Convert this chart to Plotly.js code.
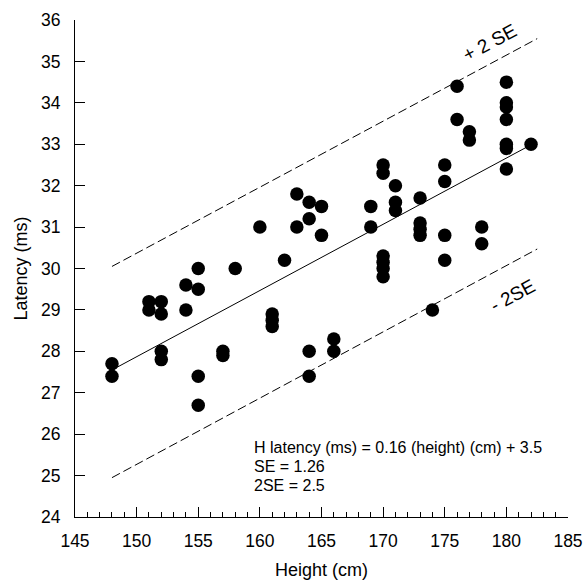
<!DOCTYPE html>
<html>
<head>
<meta charset="utf-8">
<script src="https://cdn.plot.ly/plotly-3.0.1.min.js"></script>
<style>html,body{margin:0;padding:0;background:#fff;}#chart{width:585px;height:580px;}</style>
</head>
<body>
<div id="chart"></div>
<script>
// Scatter data: height (cm) and latency (ms)
const heights = [148,148,151,151,152,152,152,152,154,154,155,155,155,155,157,157,158,160,161,161,161,162,163,163,164,164,164,164,165,165,166,166,169,169,170,170,170,170,170,170,171,171,171,173,173,173,173,174,175,175,175,175,176,176,177,177,178,178,180,180,180,180,180,180,180,182];
const latencies = [27.7,27.4,29.2,29.0,29.2,28.9,28.0,27.8,29.6,29.0,30.0,29.5,27.4,26.7,28.0,27.9,30.0,31.0,28.9,28.75,28.6,30.2,31.8,31.0,31.6,31.2,28.0,27.4,31.5,30.8,28.3,28.0,31.5,31.0,32.5,32.3,30.3,30.15,30.0,29.8,32.0,31.6,31.4,31.7,31.1,30.95,30.8,29.0,32.5,32.1,30.8,30.2,34.4,33.6,33.3,33.1,31.0,30.6,34.5,34.0,33.9,33.6,33.0,32.9,32.4,33.0];

// Regression line and +/- 2SE bands (end points)
const fitX = [148, 181.9];
const fitY = [27.55, 32.97];
const bandX = [148, 182.5];
const upperY = [30.05, 35.55];
const lowerY = [24.95, 30.47];

// Axis ticks
const xTicks = [145,150,155,160,165,170,175,180,185];
const yTicks = [24,25,26,27,28,29,30,31,32,33,34,35,36];

// Annotation texts
const formulaLines = ["H latency (ms) = 0.16 (height) (cm) + 3.5", "SE = 1.26", "2SE = 2.5"];
const formulaY = [25.69, 25.21, 24.77];

const font = "Liberation Sans, Arial, Helvetica, sans-serif";

const traces = [
  {x: bandX, y: upperY, mode: "lines", line: {color: "#000", width: 1, dash: "9px,4px"}, hoverinfo: "skip"},
  {x: bandX, y: lowerY, mode: "lines", line: {color: "#000", width: 1, dash: "9px,4px"}, hoverinfo: "skip"},
  {x: fitX, y: fitY, mode: "lines", line: {color: "#000", width: 1}, hoverinfo: "skip"},
  {x: heights, y: latencies, mode: "markers", marker: {color: "#000", size: 13.5}, hoverinfo: "x+y"}
];

const annotations = formulaLines.map((t, i) => ({
  x: 159.35, y: formulaY[i], xref: "x", yref: "y", text: t, showarrow: false,
  xanchor: "left", yanchor: "middle", font: {family: font, size: 16, color: "#000"}
}));
annotations.push({x: 178.66, y: 35.45, xref: "x", yref: "y", text: "+ 2 SE", showarrow: false,
  textangle: -28, font: {family: font, size: 19, color: "#000"}});
annotations.push({x: 180.52, y: 29.34, xref: "x", yref: "y", text: "- 2SE", showarrow: false,
  textangle: -28, font: {family: font, size: 19, color: "#000"}});

const layout = {
  width: 585, height: 580,
  margin: {l: 75, r: 17, t: 20, b: 63},
  paper_bgcolor: "#fff", plot_bgcolor: "#fff",
  showlegend: false,
  font: {family: font, color: "#000"},
  xaxis: {
    range: [145, 185], tickvals: xTicks, ticktext: xTicks.map(String),
    ticks: "inside", ticklen: 10, tickwidth: 1, tickcolor: "#000",
    minor: {dtick: 1, ticks: "inside", ticklen: 5, tickwidth: 1, tickcolor: "#000", showgrid: false},
    showline: true, linecolor: "#000", linewidth: 1, showgrid: false, zeroline: false,
    tickfont: {family: font, size: 17.5, color: "#000"}, ticklabelstandoff: 8,
    title: {text: "Height (cm)", font: {family: font, size: 18, color: "#000"}, standoff: 14},
    automargin: false
  },
  yaxis: {
    range: [24, 36], tickvals: yTicks, ticktext: yTicks.map(String),
    ticks: "inside", ticklen: 10, tickwidth: 1, tickcolor: "#000",
    showline: true, linecolor: "#000", linewidth: 1, showgrid: false, zeroline: false,
    tickfont: {family: font, size: 17.5, color: "#000"}, ticklabelstandoff: 10,
    title: {text: "Latency (ms)", font: {family: font, size: 18, color: "#000"}, standoff: 8},
    automargin: false
  },
  annotations: annotations
};

Plotly.newPlot("chart", traces, layout, {displayModeBar: false, staticPlot: true});
</script>
</body>
</html>
